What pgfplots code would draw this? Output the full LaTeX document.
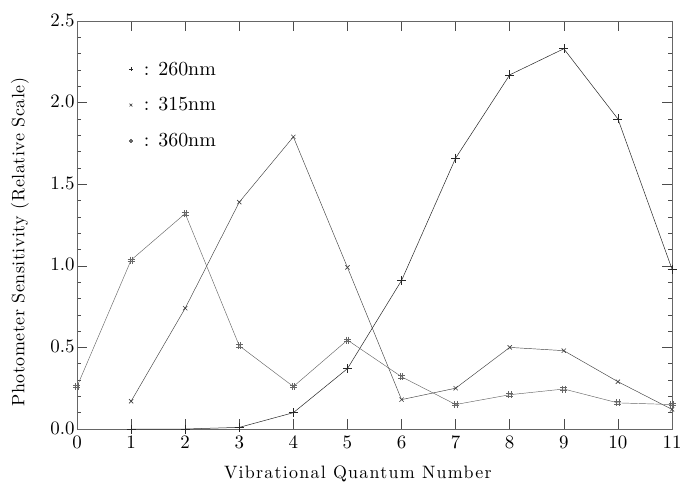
\documentclass[border=0pt]{standalone}
\usepackage{fontspec}
\setmainfont{lmroman10-regular}[Extension=.otf, BoldFont=lmroman10-bold, ItalicFont=lmroman10-italic]
\usepackage{pgfplots}
\pgfplotsset{compat=1.18}
\pgfdeclareplotmark{hash}{%
  \pgfpathmoveto{\pgfqpoint{-0.35\pgfplotmarksize}{\pgfplotmarksize}}%
  \pgfpathlineto{\pgfqpoint{-0.35\pgfplotmarksize}{-\pgfplotmarksize}}%
  \pgfpathmoveto{\pgfqpoint{0.35\pgfplotmarksize}{\pgfplotmarksize}}%
  \pgfpathlineto{\pgfqpoint{0.35\pgfplotmarksize}{-\pgfplotmarksize}}%
  \pgfpathmoveto{\pgfqpoint{-\pgfplotmarksize}{0.35\pgfplotmarksize}}%
  \pgfpathlineto{\pgfqpoint{\pgfplotmarksize}{0.35\pgfplotmarksize}}%
  \pgfpathmoveto{\pgfqpoint{-\pgfplotmarksize}{-0.35\pgfplotmarksize}}%
  \pgfpathlineto{\pgfqpoint{\pgfplotmarksize}{-0.35\pgfplotmarksize}}%
  \pgfusepathqstroke}
\begin{document}
\begin{tikzpicture}
\path[use as bounding box] (-77bp,-53bp) rectangle (606bp,429bp);
\begin{axis}[
  at={(0,0)}, anchor=south west,
  scale only axis, width=595bp, height=408bp,
  xmin=0, xmax=11, ymin=0, ymax=2.5,
  xtick={0,1,...,11}, ytick={0,0.5,...,2.5},
  minor y tick num=4,
  tick align=inside,
  major tick length=10bp, minor tick length=4bp,
  tick style={black!70, line width=0.5pt},
  axis line style={black!60, line width=0.6pt},
  /pgf/number format/assume math mode=true,
  tick label style={font=\fontsize{19}{21}\selectfont},
  xticklabel style={yshift=-3bp},
  yticklabel style={/pgf/number format/fixed,/pgf/number format/fixed zerofill,/pgf/number format/precision=1, xshift=1bp, yshift=1bp},
  xlabel={\addfontfeature{LetterSpace=7}Vibrational Quantum Number},
  ylabel={\addfontfeature{LetterSpace=3}Photometer Sensitivity (Relative Scale)},
  label style={font=\fontsize{18}{20}\selectfont},
  xlabel style={at={(axis description cs:0.472,-0.11)}, anchor=center},
  ylabel style={at={(axis description cs:-0.096,0.458)}, anchor=center},
  legend style={draw=none, fill=none, at={(axis description cs:0.087,0.905)}, anchor=north west,
    font=\fontsize{20}{22}\selectfont, row sep=17bp, inner sep=0pt},
  legend cell align=left,
  legend image code/.code={\draw[#1, only marks, mark size=2bp] plot coordinates {(0.2cm,0cm)};},
]
\addplot[black!85, line width=0.5pt, mark=+, mark size=4.5bp, mark options={solid, line width=0.6pt}]
  coordinates {(1,0) (2,0) (3,0.01) (4,0.10) (5,0.37) (6,0.91) (7,1.66) (8,2.17) (9,2.33) (10,1.90) (11,0.98)};
\addlegendentry{\hspace{9bp}: 260nm}
\addplot[black!75, line width=0.45pt, mark=x, mark size=3bp, mark options={solid, line width=0.6pt}]
  coordinates {(1,0.17) (2,0.74) (3,1.39) (4,1.79) (5,0.99) (6,0.18) (7,0.25) (8,0.50) (9,0.48) (10,0.29) (11,0.12)};
\addlegendentry{\hspace{9bp}: 315nm}
\addplot[black!60, line width=0.45pt, mark=hash, mark size=3.5bp, mark options={solid, line width=0.6pt}]
  coordinates {(0,0.26) (1,1.035) (2,1.32) (3,0.51) (4,0.26) (5,0.545) (6,0.32) (7,0.15) (8,0.21) (9,0.245) (10,0.16) (11,0.15)};
\addlegendentry{\hspace{9bp}: 360nm}
\end{axis}
\end{tikzpicture}
\end{document}
